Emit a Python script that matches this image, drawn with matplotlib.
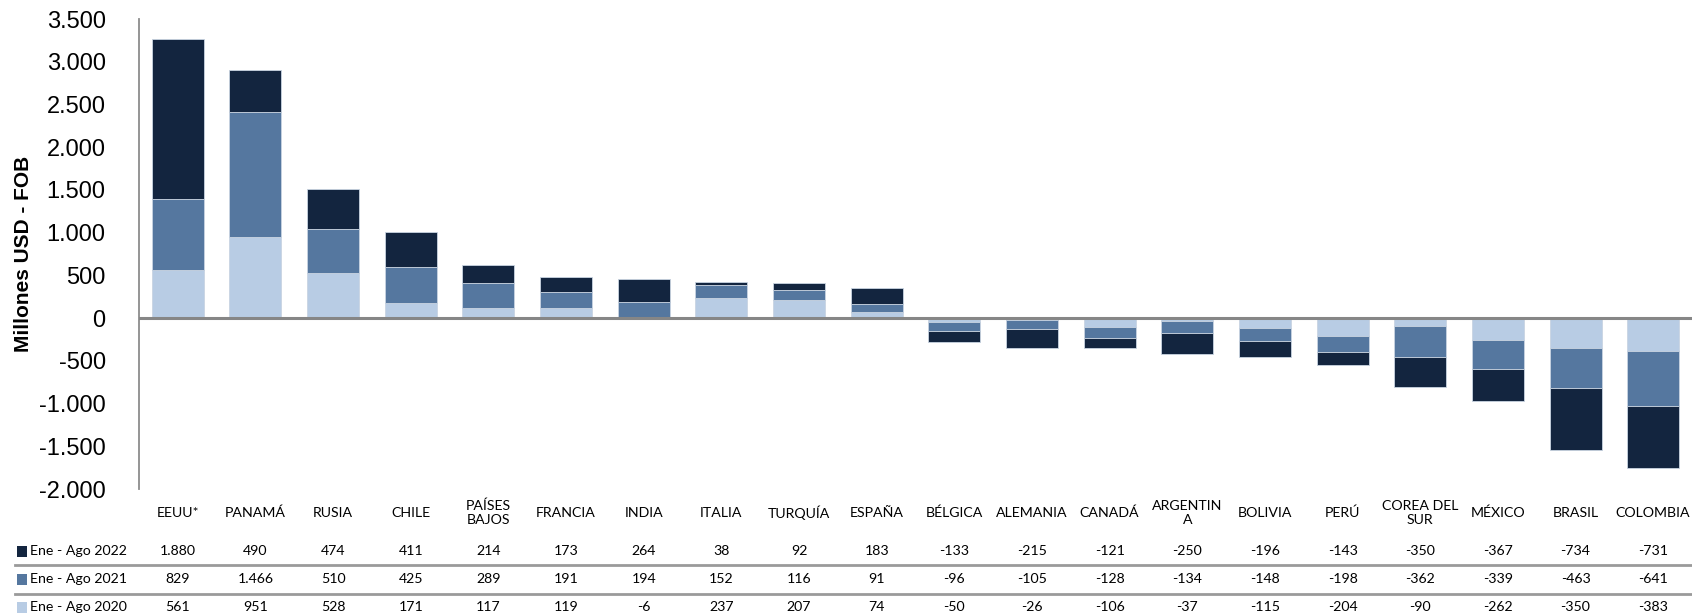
import matplotlib
matplotlib.use("Agg")
import matplotlib.pyplot as plt
import matplotlib.transforms as mtransforms
from matplotlib.patches import Rectangle
import numpy as np

categories = ["EEUU*", "PANAMÁ", "RUSIA", "CHILE", "PAÍSES\nBAJOS", "FRANCIA",
              "INDIA", "ITALIA", "TURQUÍA", "ESPAÑA", "BÉLGICA", "ALEMANIA",
              "CANADÁ", "ARGENTIN\nA", "BOLIVIA", "PERÚ", "COREA DEL\nSUR",
              "MÉXICO", "BRASIL", "COLOMBIA"]
ene_ago_2020 = [561, 951, 528, 171, 117, 119, -6, 237, 207, 74, -50, -26,
                -106, -37, -115, -204, -90, -262, -350, -383]
ene_ago_2021 = [829, 1466, 510, 425, 289, 191, 194, 152, 116, 91, -96, -105,
                -128, -134, -148, -198, -362, -339, -463, -641]
ene_ago_2022 = [1880, 490, 474, 411, 214, 173, 264, 38, 92, 183, -133, -215,
                -121, -250, -196, -143, -350, -367, -734, -731]
series_names = ["Ene - Ago 2020", "Ene - Ago 2021", "Ene - Ago 2022"]
series_colors = ["#B8CCE4", "#55779F", "#13253F"]
yticks = [-2000, -1500, -1000, -500, 0, 500, 1000, 1500, 2000, 2500, 3000, 3500]

W, H = 1692, 615
fig = plt.figure(figsize=(W / 100, H / 100), dpi=100)
ax = fig.add_axes([139 / W, 1 - 489 / H, 1 - 139 / W, (489 - 19) / H])

x = np.arange(len(categories))
series = [np.array(ene_ago_2020), np.array(ene_ago_2021), np.array(ene_ago_2022)]
pos_base = np.zeros(len(categories))
neg_base = np.zeros(len(categories))
for vals, col in zip(series, series_colors):
    bottoms = np.where(vals >= 0, pos_base, neg_base)
    ax.bar(x, vals, bottom=bottoms, width=0.67, color=col,
           edgecolor="#C9D4E2", linewidth=0.6, zorder=2)
    pos_base = pos_base + np.where(vals >= 0, vals, 0)
    neg_base = neg_base + np.where(vals < 0, vals, 0)

ax.set_xlim(-0.5, len(categories) - 0.5)
ax.set_ylim(-2000, 3500)
ax.set_yticks(yticks)
ax.set_yticklabels([f"{v:,}".replace(",", ".") for v in yticks],
                   fontfamily="Liberation Sans", fontsize=17)
ax.tick_params(axis="y", length=0, pad=24)
ax.set_xticks([])
for s in ["top", "right", "bottom"]:
    ax.spines[s].set_visible(False)
ax.spines["left"].set_color("#8C8C8C")
ax.spines["left"].set_linewidth(1.3)
ax.axhline(0, color="#868686", linewidth=2.2, zorder=3)
ax.set_ylabel("Millones USD - FOB", fontfamily="Liberation Sans",
              fontsize=15, fontweight="bold")
ax.yaxis.set_label_coords(-(139 - 33) / (W - 139), 0.5)

# data table under the bars
trans = mtransforms.blended_transform_factory(ax.transData, fig.transFigure)
tfont = dict(fontfamily="Lato", fontsize=10.2, color="#000000")
for xi, name in zip(x, categories):
    fig.text(xi, 1 - 513 / H, name, transform=trans, ha="center", va="center",
             linespacing=1.25, **tfont)

row_y = {"Ene - Ago 2022": 551, "Ene - Ago 2021": 579, "Ene - Ago 2020": 607}
for name, vals, col in zip(series_names, series, series_colors):
    yy = 1 - row_y[name] / H
    fig.add_artist(Rectangle((17 / W, yy - 5.5 / H), 10 / W, 11 / H,
                             transform=fig.transFigure, facecolor=col,
                             edgecolor="none"))
    fig.text(30 / W, yy, name, ha="left", va="center", **tfont)
    for xi, v in zip(x, vals):
        fig.text(xi, yy, f"{v:,}".replace(",", "."), transform=trans,
                 ha="center", va="center", **tfont)

for ysep in (565, 594):
    fig.add_artist(plt.Line2D([15 / W, 1.0], [1 - ysep / H, 1 - ysep / H],
                              transform=fig.transFigure, color="#9A9A9A",
                              linewidth=2.0))

fig.savefig("out.png", dpi=100)
